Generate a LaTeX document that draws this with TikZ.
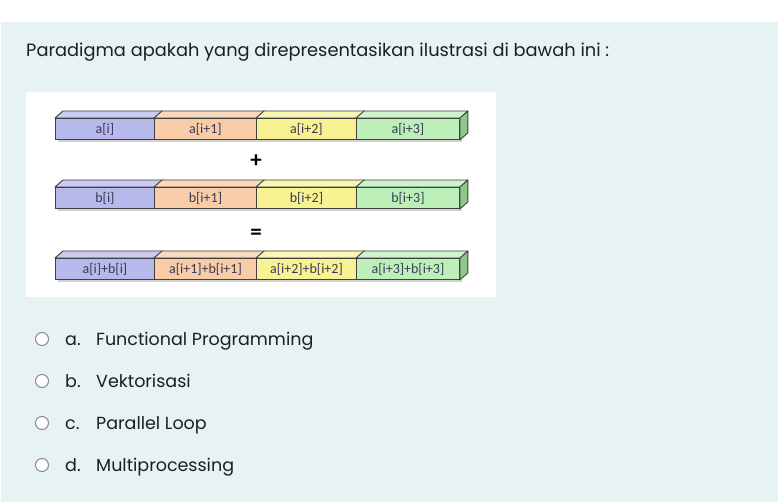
\documentclass[tikz,border=0pt]{standalone}
\usepackage{fontspec}
\setmainfont{Poppins}
\newfontfamily\cellfont{Carlito}
\definecolor{pagebg}{HTML}{E6F2F4}
\definecolor{cblue}{HTML}{B7B9EC}
\definecolor{cblueT}{HTML}{C9CBF2}
\definecolor{corange}{HTML}{F8CCA6}
\definecolor{corangeT}{HTML}{FAD9BC}
\definecolor{cyellow}{HTML}{F8F292}
\definecolor{cyellowT}{HTML}{FAF6B4}
\definecolor{cgreen}{HTML}{BDF0B9}
\definecolor{cgreenT}{HTML}{CFF4CB}
\definecolor{cgreenS}{HTML}{8FC98A}
\definecolor{celltext}{HTML}{3A3A55}
\definecolor{qtext}{HTML}{1E1E1E}
\definecolor{radio}{HTML}{8A8A8A}
\tikzset{
  x=1pt, y=-1pt,
  cellbox/.style={draw=black!75, line width=0.9pt, minimum height=21pt, inner sep=0pt,
    anchor=north west, font=\cellfont\fontsize{14}{16}\selectfont, text=celltext},
  topface/.style={draw=black!75, line width=0.9pt, line join=round},
  optext/.style={anchor=base west, inner sep=0pt, font=\fontsize{17.5}{20}\selectfont, text=qtext},
  radiobtn/.style={circle, draw=radio, line width=1pt, fill=white, minimum size=13pt, inner sep=0pt},
  opsign/.style={font=\cellfont\bfseries\fontsize{23}{23}\selectfont, inner sep=0pt}
}
\begin{document}
\begin{tikzpicture}
\useasboundingbox (0,0) rectangle (778,502);
\fill[white] (0,0) rectangle (778,502);
\fill[pagebg] (1,22) rectangle (778,502);
\node[anchor=base west, inner sep=0pt, font=\fontsize{17.8}{20}\selectfont, text=qtext] (q) at (26,57)
  {Paradigma apakah yang direpresentasikan ilustrasi di bawah ini :};
\fill[white] (26,92) rectangle (496,297);
% rows
\foreach \r/\yt/\la/\lb/\lc/\ld in {
  1/118/{a[i]}/{a[i+1]}/{a[i+2]}/{a[i+3]},
  2/187/{b[i]}/{b[i+1]}/{b[i+2]}/{b[i+3]},
  3/258/{a[i]+b[i]}/{a[i+1]+b[i+1]}/{a[i+2]+b[i+2]}/{a[i+3]+b[i+3]}}{
  % shadow
  \fill[black!18] (58,\yt+22) rectangle (462,\yt+24);
  \node[cellbox, fill=cblue, minimum width=99pt] (r\r c1) at (55,\yt) {\la};
  \node[cellbox, fill=corange, minimum width=102pt] (r\r c2) at (154,\yt) {\lb};
  \node[cellbox, fill=cyellow, minimum width=100pt] (r\r c3) at (256,\yt) {\lc};
  \node[cellbox, fill=cgreen, minimum width=103pt] (r\r c4) at (356,\yt) {\ld};
  \draw[topface, fill=cblueT] (r\r c1.north west) -- ++(8,-7) -- ([shift={(8,-7)}]r\r c1.north east) -- (r\r c1.north east) -- cycle;
  \draw[topface, fill=corangeT] (r\r c2.north west) -- ++(8,-7) -- ([shift={(8,-7)}]r\r c2.north east) -- (r\r c2.north east) -- cycle;
  \draw[topface, fill=cyellowT] (r\r c3.north west) -- ++(8,-7) -- ([shift={(8,-7)}]r\r c3.north east) -- (r\r c3.north east) -- cycle;
  \draw[topface, fill=cgreenT] (r\r c4.north west) -- ++(8,-7) -- ([shift={(8,-7)}]r\r c4.north east) -- (r\r c4.north east) -- cycle;
  \draw[topface, fill=cgreenS] (r\r c4.north east) -- ++(8,-7) -- ([shift={(8,-7)}]r\r c4.south east) -- (r\r c4.south east) -- cycle;
}
\node[opsign] (plus) at (256,161) {+};
\node[opsign] (eq) at (256,234) {=};
% options
\foreach \i/\yy/\l/\t in {1/339/a./Functional Programming, 2/381/b./Vektorisasi, 3/423/c./Parallel Loop, 4/465/d./Multiprocessing}{
  \node[radiobtn] (rb\i) at (42,\yy) {};
  \node[optext] (ol\i) at (65,\yy+6) {\l};
  \node[optext] (ot\i) at (96,\yy+6) {\t};
}
\end{tikzpicture}
\end{document}
